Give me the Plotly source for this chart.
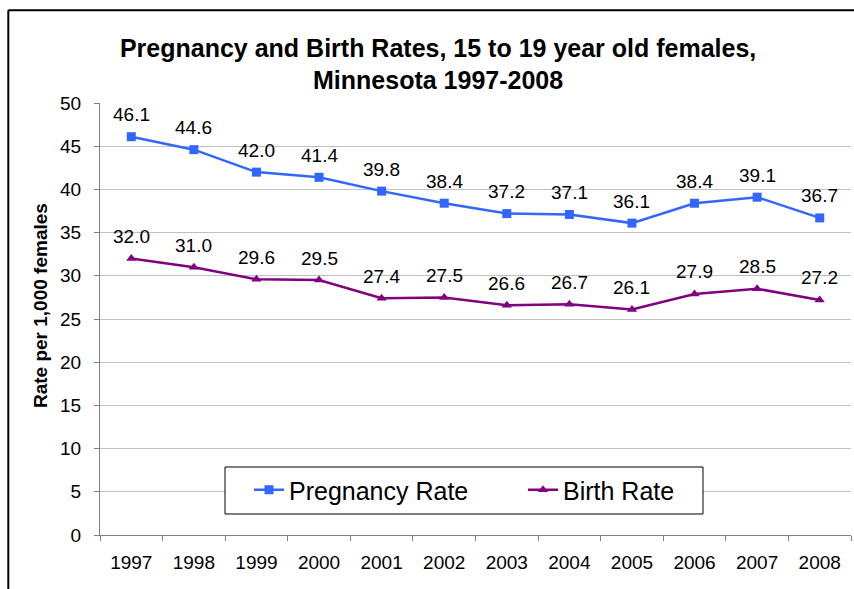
import plotly.graph_objects as go

years = ["1997", "1998", "1999", "2000", "2001", "2002", "2003", "2004", "2005", "2006", "2007", "2008"]
pregnancy_rate = [46.1, 44.6, 42.0, 41.4, 39.8, 38.4, 37.2, 37.1, 36.1, 38.4, 39.1, 36.7]
birth_rate = [32.0, 31.0, 29.6, 29.5, 27.4, 27.5, 26.6, 26.7, 26.1, 27.9, 28.5, 27.2]

BLUE = "#3366FF"
PURPLE = "#800080"
FONT = "Liberation Sans, Arial, sans-serif"

fig = go.Figure()
fig.add_trace(go.Scatter(
    x=years, y=pregnancy_rate, name="Pregnancy Rate", mode="lines+markers",
    line=dict(color=BLUE, width=2.5), marker=dict(symbol="square", size=9, color=BLUE),
))
fig.add_trace(go.Scatter(
    x=years, y=birth_rate, name="Birth Rate", mode="lines+markers",
    line=dict(color=PURPLE, width=2.5), marker=dict(symbol="triangle-up", size=9, color=PURPLE),
))

annotations = []
for series in (pregnancy_rate, birth_rate):
    for i, v in enumerate(series):
        annotations.append(dict(
            x=i, y=v, xref="x", yref="y", text=f"{v:.1f}", showarrow=False, yshift=22,
            font=dict(family=FONT, size=19, color="black"),
        ))
annotations.append(dict(
    x=(40 - 100) / 751, y=0.53, xref="paper", yref="paper", text="<b>Rate per 1,000 females</b>",
    textangle=-90, showarrow=False, xanchor="center", yanchor="middle",
    font=dict(family=FONT, size=19, color="black"),
))

L_X0, L_X1, L_Y0, L_Y1 = 225, 703, 467, 514
def px_x(p):
    return (p - 100) / 751
def px_y(p):
    return (535 - p) / 432

fig.update_layout(
    width=854, height=589,
    margin=dict(l=100, r=3, t=103, b=54, autoexpand=False),
    paper_bgcolor="white", plot_bgcolor="white",
    font=dict(family=FONT, color="black"),
    title=dict(
        text="<b>Pregnancy and Birth Rates, 15 to 19 year old females,<br>Minnesota 1997-2008</b>",
        x=0.513, xanchor="center", y=0.904, yanchor="middle",
        font=dict(family=FONT, size=25, color="black"),
    ),
    xaxis=dict(
        type="category", tickson="boundaries", ticks="outside", ticklen=5,
        tickcolor="#808080", showline=True, linecolor="#808080", linewidth=1,
        showgrid=False, tickfont=dict(family=FONT, size=19, color="black"),
        range=[-0.5, 11.5], ticklabelstandoff=10,
    ),
    yaxis=dict(
        range=[0, 50], dtick=5, ticks="outside", ticklen=5, tickcolor="#808080",
        showline=True, linecolor="#808080", linewidth=1,
        showgrid=True, gridcolor="#C0C0C0", gridwidth=1, zeroline=False,
        tickfont=dict(family=FONT, size=19, color="black"), ticklabelstandoff=9,
    ),
    legend=dict(
        orientation="h", x=px_x(249), y=px_y(490), xanchor="left", yanchor="middle",
        borderwidth=0, bgcolor="rgba(0,0,0,0)",
        font=dict(family=FONT, size=25, color="black"),
        entrywidth=229, itemwidth=30,
    ),
    annotations=annotations,
    shapes=[
        dict(type="rect", xref="paper", yref="paper", layer="above",
             x0=px_x(L_X0), x1=px_x(L_X1), y0=px_y(L_Y1), y1=px_y(L_Y0),
             fillcolor="white", line=dict(color="black", width=1)),
        dict(type="line", xref="paper", yref="paper", x0=-0.1221, x1=1.2, y0=1.2146, y1=1.2146,
             line=dict(color="black", width=2)),
        dict(type="line", xref="paper", yref="paper", x0=-0.1221, x1=-0.1221, y0=1.2146, y1=-0.3,
             line=dict(color="black", width=2)),
    ],
)

fig.write_html("out.html")
